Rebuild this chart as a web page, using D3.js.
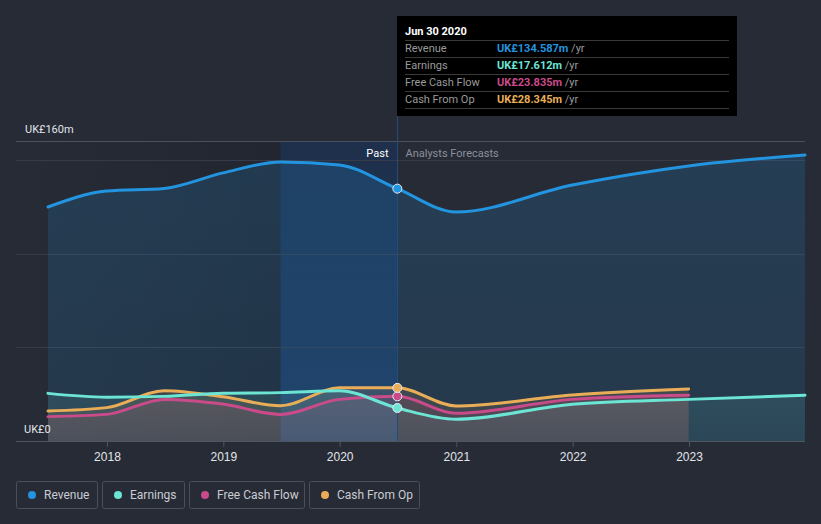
<!DOCTYPE html>
<html>
<head>
<meta charset="utf-8">
<script src="https://cdn.jsdelivr.net/npm/d3@7"></script>
<style>
  html, body { margin: 0; padding: 0; background: #262b36; }
  svg { display: block; font-family: Roboto, "Open Sans", sans-serif; }
</style>
</head>
<body>
<svg id="chart" width="821" height="524"></svg>
<script>
// data (UK£ millions)
var pastDates = ['2017-06-30', '2017-12-31', '2018-06-30', '2018-12-31', '2019-06-30', '2019-12-31', '2020-06-30'];
var forecastDates = ['2020-12-31', '2021-12-31', '2022-12-31', '2023-12-31'];
var revenuePast = [124.8, 133.3, 134.7, 143.0, 148.8, 147.2, 134.587];
var revenueForecast = [122.1, 136.5, 146.7, 152.5];
var earningsPast = [25.4, 23.4, 23.8, 25.5, 25.8, 26.8, 17.612];
var earningsForecast = [11.6, 19.6, 22.2, 24.4];
var fcfPast = [13.0, 14.2, 22.2, 19.7, 14.2, 22.2, 23.835];
var fcfForecast = [14.8, 22.2, 24.4];
var cfoPast = [16.0, 17.8, 26.8, 23.6, 18.8, 28.4, 28.345];
var cfoForecast = [18.7, 24.5, 27.7];
var yGridTicks = [50, 100, 150];
var yMax = 160;
var nowDate = '2020-06-30';
var highlightStart = '2019-06-30';
var tooltipTitle = 'Jun 30 2020';

(function() {
  var series = [
    { name: 'Revenue', color: '#2394df', fill: 0.18, past: revenuePast, fc: revenueForecast, tip: 'UK£134.587m' },
    { name: 'Earnings', color: '#6ce5d5', fill: 0.12, past: earningsPast, fc: earningsForecast, tip: 'UK£17.612m' },
    { name: 'Free Cash Flow', color: '#c94b8a', fill: 0.14, past: fcfPast, fc: fcfForecast, tip: 'UK£23.835m' },
    { name: 'Cash From Op', color: '#e9ad58', fill: 0.14, past: cfoPast, fc: cfoForecast, tip: 'UK£28.345m' }
  ];

  var parse = d3.timeParse('%Y-%m-%d');
  var svg = d3.select('#chart');
  var plotLeft = 16, plotRight = 805, plotTop = 141, plotBottom = 441;

  var x = d3.scaleTime()
    .domain([parse('2017-06-30'), parse('2023-12-31')])
    .range([48, 805]);
  var y = d3.scaleLinear().domain([0, yMax]).range([plotBottom, plotTop]);

  series.forEach(function(s) {
    var dates = pastDates.concat(forecastDates.slice(0, s.fc.length));
    var vals = s.past.concat(s.fc);
    s.points = dates.map(function(d, i) { return { date: parse(d), value: vals[i] }; });
  });

  var defs = svg.append('defs');
  series.forEach(function(s, i) {
    var g = defs.append('linearGradient').attr('id', 'area' + i)
      .attr('x1', 0).attr('y1', 0).attr('x2', 0).attr('y2', 1);
    g.append('stop').attr('offset', '0%').attr('stop-color', s.color).attr('stop-opacity', s.fill);
    g.append('stop').attr('offset', '100%').attr('stop-color', s.color).attr('stop-opacity', s.fill * 0.7);
  });
  var pg = defs.append('linearGradient').attr('id', 'pastShade');
  pg.append('stop').attr('offset', '0%').attr('stop-color', '#000').attr('stop-opacity', 0);
  pg.append('stop').attr('offset', '100%').attr('stop-color', '#000').attr('stop-opacity', 0.12);
  var hg = defs.append('linearGradient').attr('id', 'band')
    .attr('x1', 0).attr('y1', 0).attr('x2', 0).attr('y2', 1);
  hg.append('stop').attr('offset', '0%').attr('stop-color', '#0a3a7a').attr('stop-opacity', 0.3);
  hg.append('stop').attr('offset', '100%').attr('stop-color', '#1550a0').attr('stop-opacity', 0.36);

  var bandX0 = x(parse(highlightStart)), nowX = Math.round(x(parse(nowDate))) + 0.5;

  // past shading and last-year band
  svg.append('rect').attr('x', plotLeft).attr('y', plotTop)
    .attr('width', bandX0 - plotLeft).attr('height', plotBottom - plotTop)
    .attr('fill', 'url(#pastShade)');
  svg.append('rect').attr('x', bandX0).attr('y', plotTop)
    .attr('width', nowX - bandX0).attr('height', plotBottom - plotTop)
    .attr('fill', 'url(#band)');

  // grid
  svg.append('line').attr('x1', plotLeft).attr('x2', plotRight).attr('y1', plotTop + 0.5).attr('y2', plotTop + 0.5)
    .attr('stroke', '#4b505b').attr('stroke-width', 1);
  svg.selectAll('.grid').data(yGridTicks).enter().append('line')
    .attr('x1', plotLeft).attr('x2', plotRight)
    .attr('y1', function(d) { return Math.round(y(d)) + 0.5; })
    .attr('y2', function(d) { return Math.round(y(d)) + 0.5; })
    .attr('stroke', '#363b47').attr('stroke-width', 1);

  // areas and lines
  var area = d3.area().curve(d3.curveMonotoneX)
    .x(function(d) { return x(d.date); }).y0(y(0)).y1(function(d) { return y(d.value); });
  var line = d3.line().curve(d3.curveMonotoneX)
    .x(function(d) { return x(d.date); }).y(function(d) { return y(d.value); });

  series.forEach(function(s, i) {
    svg.append('path').datum(s.points).attr('d', area).attr('fill', 'url(#area' + i + ')');
  });
  series.slice().reverse().forEach(function(s) {
    svg.append('path').datum(s.points).attr('d', line)
      .attr('fill', 'none').attr('stroke', s.color).attr('stroke-width', 3)
      .attr('stroke-linejoin', 'round').attr('stroke-linecap', 'round');
  });

  // x axis
  svg.append('line').attr('x1', plotLeft).attr('x2', plotRight).attr('y1', plotBottom + 0.5).attr('y2', plotBottom + 0.5)
    .attr('stroke', '#4f5561');
  var xAxis = svg.append('g').attr('transform', 'translate(0,' + (plotBottom + 1) + ')')
    .call(d3.axisBottom(x).ticks(d3.timeYear.every(1)).tickFormat(d3.timeFormat('%Y')).tickSize(5).tickPadding(5));
  xAxis.select('.domain').remove();
  xAxis.selectAll('line').attr('stroke', '#4f5561');
  xAxis.selectAll('text').attr('fill', '#e3e5e8').attr('font-size', 12);

  // y labels
  svg.append('text').attr('x', 25).attr('y', 133).attr('fill', '#e3e5e8').attr('font-size', 11).text('UK£' + yMax + 'm');
  svg.append('text').attr('x', 24).attr('y', 433).attr('fill', '#e3e5e8').attr('font-size', 11).text('UK£0');

  // now line and labels
  svg.append('line').attr('x1', nowX).attr('x2', nowX).attr('y1', 16).attr('y2', plotBottom)
    .attr('stroke', '#244b7e').attr('stroke-width', 1);
  svg.append('text').attr('x', nowX - 9).attr('y', 157).attr('text-anchor', 'end')
    .attr('fill', '#ffffff').attr('font-size', 11).text('Past');
  svg.append('text').attr('x', nowX + 8).attr('y', 157)
    .attr('fill', '#8b909a').attr('font-size', 11).text('Analysts Forecasts');

  // markers at now
  series.forEach(function(s) {
    var p = s.points[pastDates.length - 1];
    svg.append('circle').attr('cx', x(p.date)).attr('cy', y(p.value)).attr('r', 4.5)
      .attr('fill', s.color).attr('stroke', '#e8ecf2').attr('stroke-width', 1);
  });

  // tooltip
  var tip = svg.append('g').attr('transform', 'translate(397,16)');
  tip.append('rect').attr('width', 340).attr('height', 100).attr('fill', '#000');
  tip.append('text').attr('x', 8).attr('y', 19).attr('fill', '#fff').attr('font-size', 11)
    .attr('font-weight', 'bold').text(tooltipTitle);
  tip.append('line').attr('x1', 8).attr('x2', 332).attr('y1', 24.5).attr('y2', 24.5).attr('stroke', '#3a3a3a');
  series.forEach(function(s, i) {
    var yy = 24 + i * 17;
    tip.append('text').attr('x', 8).attr('y', yy + 12).attr('fill', '#9a9a9a').attr('font-size', 11).text(s.name);
    var t = tip.append('text').attr('x', 100).attr('y', yy + 12).attr('font-size', 11);
    t.append('tspan').attr('fill', s.color).attr('font-weight', 'bold').text(s.tip);
    t.append('tspan').attr('fill', '#9a9a9a').text(' /yr');
    tip.append('line').attr('x1', 8).attr('x2', 332).attr('y1', yy + 17.5).attr('y2', yy + 17.5).attr('stroke', '#3a3a3a');
  });

  // legend
  var legendX = [16, 102, 189, 309];
  var legendW = [81, 82, 115, 110];
  series.forEach(function(s, i) {
    var g = svg.append('g').attr('transform', 'translate(' + legendX[i] + ',481)');
    g.append('rect').attr('x', 0.5).attr('y', 0.5).attr('width', legendW[i]).attr('height', 27).attr('rx', 2)
      .attr('fill', 'none').attr('stroke', '#4a505b');
    g.append('circle').attr('cx', 16).attr('cy', 14).attr('r', 4).attr('fill', s.color);
    g.append('text').attr('x', 28).attr('y', 18).attr('fill', '#c9ccd2').attr('font-size', 12).text(s.name);
  });
})();
</script>
</body>
</html>
